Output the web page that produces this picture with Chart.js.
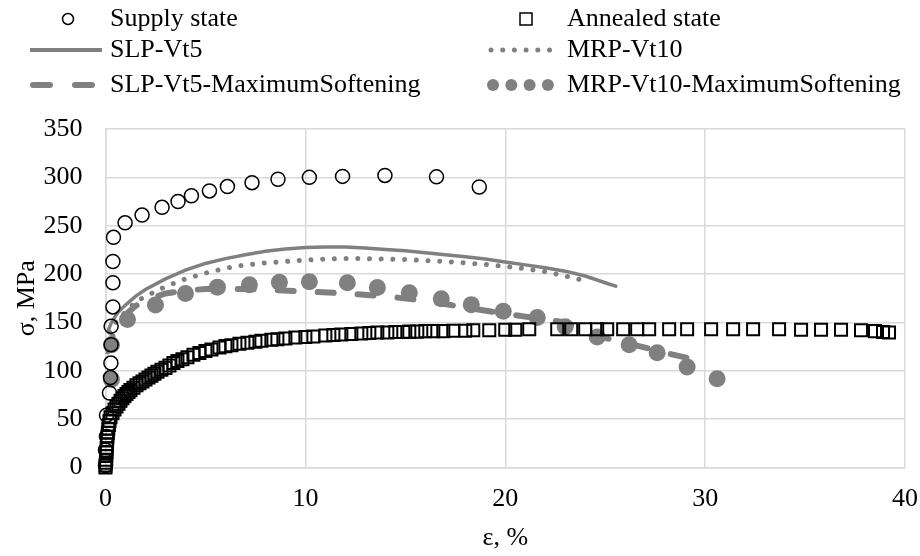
<!DOCTYPE html>
<html>
<head>
<meta charset="utf-8">
<script src="https://cdn.jsdelivr.net/npm/chart.js@4/dist/chart.umd.min.js"></script>
<style>
  html, body { margin: 0; padding: 0; background: #fff; }
  #wrap { width: 920px; height: 556px; position: relative; }
</style>
</head>
<body>
<div id="wrap"><canvas id="c" width="920" height="556"></canvas></div>
<script>
// ---- Data (strain %, stress MPa) ----
const seriesNames = ["Supply state", "Annealed state", "SLP-Vt5", "MRP-Vt10",
  "SLP-Vt5-MaximumSoftening", "MRP-Vt10-MaximumSoftening"];

const supplyState = [
  [0.0, 2], [0.0, 18], [0.05, 32], [0.05, 54], [0.2, 77], [0.25, 93], [0.27, 108],
  [0.28, 127], [0.28, 146], [0.37, 166], [0.37, 191], [0.37, 213], [0.4, 238],
  [0.98, 253], [1.83, 261], [2.83, 269], [3.63, 275], [4.3, 281], [5.2, 286],
  [6.1, 290.5], [7.33, 294.5], [8.63, 298], [10.2, 300], [11.86, 301],
  [13.98, 302], [16.56, 300.5], [18.7, 290]
];

const annealedState = [
  [0.0, 0], [0.0, 2], [0.02, 5], [0.03, 8], [0.04, 12], [0.05, 16], [0.06, 20],
  [0.07, 24], [0.08, 28], [0.1, 32], [0.12, 36], [0.14, 40], [0.17, 44], [0.2, 48],
  [0.25, 52], [0.35, 56], [0.45, 60], [0.55, 63], [0.65, 66], [0.75, 69],
  [0.85, 71.5], [0.95, 74], [1.05, 76], [1.15, 78], [1.25, 80], [1.4, 82.5],
  [1.55, 85], [1.7, 87], [1.85, 89], [2.0, 91], [2.15, 93], [2.3, 95], [2.45, 97],
  [2.6, 99], [2.8, 101], [3.0, 103], [3.2, 105.5], [3.4, 108], [3.6, 110],
  [3.85, 112], [4.1, 114], [4.4, 116.5], [4.7, 118.5], [5.0, 120.5], [5.3, 122],
  [5.7, 124], [6.0, 125.5], [6.3, 126.5], [6.7, 128], [7.1, 129], [7.5, 130],
  [7.8, 131], [8.3, 132], [8.6, 132.5], [9.0, 133.5], [9.5, 134.5], [10.0, 135],
  [10.4, 135.5], [11.0, 136.5], [11.4, 137], [11.8, 137.5], [12.3, 138],
  [12.8, 138.5], [13.2, 139], [13.6, 139.5], [14.1, 139.5], [14.5, 140],
  [14.9, 140], [15.2, 140.5], [15.6, 140.5], [16.0, 141], [16.4, 141], [16.9, 141],
  [17.4, 141.5], [18.0, 141.5], [18.4, 142], [19.2, 142], [20.0, 142.5],
  [20.5, 142.5], [21.2, 143], [22.6, 143], [23.3, 143], [24.0, 143], [24.6, 143],
  [25.1, 143], [25.9, 143], [26.6, 143], [27.2, 143], [28.2, 143], [29.1, 143],
  [30.3, 143], [31.4, 143], [32.4, 143], [33.7, 143], [34.8, 142.5], [35.8, 142.5],
  [36.8, 142.5], [37.8, 142], [38.5, 141], [38.9, 140], [39.2, 139.5]
];

const slpVt5 = [
  [0.1, 140], [0.3, 150], [0.6, 160], [1, 168], [1.5, 177], [2, 184], [3, 195],
  [4, 204], [5, 211], [6, 216], [7, 220], [8, 223.5], [9, 226], [10, 227.5],
  [11, 228], [12, 228], [13, 227], [14, 225.5], [15, 224], [16, 222], [17, 220],
  [18, 218], [19, 215.5], [20, 212.5], [21, 209.5], [22, 206.5], [23, 203],
  [24, 198], [25, 191], [25.6, 187]
];

const mrpVt10 = [
  [0.2, 140], [0.5, 150], [1, 161], [1.5, 171], [2, 177], [3, 187], [4, 195],
  [5, 201], [6, 206], [7, 209.5], [8, 211.5], [9, 213], [10, 214.5], [11, 215.5],
  [12, 216], [13, 216], [14, 215.5], [15, 215], [16, 214], [17, 213], [18, 211.5],
  [19, 210], [20, 208], [21, 205.5], [22, 202.5], [23, 198], [24, 193]
];

const slpVt5Max = [
  [0.1, 120], [0.5, 145], [1, 158], [1.5, 167], [2, 173], [3, 180], [4, 183],
  [5, 184.5], [6, 185], [8, 184], [10, 182], [12, 180], [14, 177], [16, 172.5],
  [18, 165.5], [20, 159], [22, 153], [23, 150], [24, 141], [25, 134], [26, 129],
  [27, 124], [28, 118.5], [29.2, 113]
];

const mrpVt10Max = [
  [0.3, 91], [0.3, 127], [1.1, 153], [2.5, 168], [4.0, 180], [5.6, 186.5],
  [7.2, 189], [8.7, 191.5], [10.2, 192], [12.1, 191], [13.6, 186], [15.2, 180.7],
  [16.8, 174.6], [18.3, 168.4], [19.9, 161.5], [21.6, 155], [23.0, 145.6],
  [24.6, 135], [26.2, 127], [27.6, 118.6], [29.1, 104], [30.6, 91.7]
];

const xTicks = [0, 10, 20, 30, 40];
const yTicks = [0, 50, 100, 150, 200, 250, 300, 350];

// ---- helpers ----
const pts = arr => arr.map(p => ({ x: p[0], y: p[1] }));
const GREY = '#808080';
const FONT = '"Liberation Serif", "Times New Roman", serif';

// legend plugin (two columns, three rows)
const legendPlugin = {
  id: 'customLegend',
  afterDraw(chart) {
    const ctx = chart.ctx;
    ctx.save();
    ctx.font = '26px ' + FONT;
    ctx.fillStyle = '#000';
    ctx.textBaseline = 'middle';
    ctx.textAlign = 'left';
    const rows = [19, 50, 85];
    const col1Text = 110, col2Text = 567;
    // Supply state
    ctx.beginPath();
    ctx.strokeStyle = '#000'; ctx.lineWidth = 1.5;
    ctx.arc(68, rows[0], 5.5, 0, Math.PI * 2); ctx.stroke();
    ctx.fillText(seriesNames[0], col1Text, rows[0]);
    // Annealed state
    ctx.strokeRect(520, rows[0] - 6, 12, 12);
    ctx.fillText(seriesNames[1], col2Text, rows[0]);
    // SLP-Vt5
    ctx.beginPath(); ctx.strokeStyle = GREY; ctx.lineWidth = 4; ctx.lineCap = 'butt';
    ctx.moveTo(30, rows[1]); ctx.lineTo(102, rows[1]); ctx.stroke();
    ctx.fillText(seriesNames[2], col1Text, rows[1]);
    // MRP-Vt10 dotted
    ctx.fillStyle = GREY;
    for (let i = 0; i < 6; i++) {
      ctx.beginPath(); ctx.arc(491 + i * 11.7, rows[1], 2.5, 0, Math.PI * 2); ctx.fill();
    }
    ctx.fillStyle = '#000';
    ctx.fillText(seriesNames[3], col2Text, rows[1]);
    // SLP max dashed
    ctx.beginPath(); ctx.lineWidth = 6; ctx.lineCap = 'round'; ctx.strokeStyle = GREY;
    ctx.moveTo(33, rows[2]); ctx.lineTo(50, rows[2]);
    ctx.moveTo(75, rows[2]); ctx.lineTo(92, rows[2]); ctx.stroke();
    ctx.fillText(seriesNames[4], col1Text, rows[2]);
    // MRP max big dots
    ctx.fillStyle = GREY;
    for (let i = 0; i < 4; i++) {
      ctx.beginPath(); ctx.arc(493 + i * 18.3, rows[2], 6, 0, Math.PI * 2); ctx.fill();
    }
    ctx.fillStyle = '#000';
    ctx.fillText(seriesNames[5], col2Text, rows[2]);
    ctx.restore();
  }
};

new Chart(document.getElementById('c'), {
  type: 'scatter',
  data: {
    datasets: [
      { label: seriesNames[0], data: pts(supplyState), showLine: false,
        pointStyle: 'circle', pointRadius: 7, pointBorderColor: '#000',
        pointBackgroundColor: 'rgba(0,0,0,0)', pointBorderWidth: 1.5, order: 1, clip: false },
      { label: seriesNames[1], data: pts(annealedState), showLine: false,
        pointStyle: 'rect', pointRadius: 8.5, pointBorderColor: '#000',
        pointBackgroundColor: 'rgba(0,0,0,0)', pointBorderWidth: 2, order: 0, clip: false },
      { label: seriesNames[2], data: pts(slpVt5), showLine: true, pointRadius: 0,
        borderColor: GREY, borderWidth: 3.5, order: 5 },
      { label: seriesNames[3], data: pts(mrpVt10), showLine: true, pointRadius: 0,
        borderColor: GREY, borderWidth: 5, borderDash: [0.01, 11.7],
        borderCapStyle: 'round', order: 4 },
      { label: seriesNames[4], data: pts(slpVt5Max), showLine: true, pointRadius: 0,
        borderColor: GREY, borderWidth: 6, borderDash: [16, 24],
        borderCapStyle: 'round', order: 3 },
      { label: seriesNames[5], data: pts(mrpVt10Max), showLine: false,
        pointStyle: 'circle', pointRadius: 8.5, pointBorderWidth: 0,
        pointBackgroundColor: GREY, pointBorderColor: GREY, order: 2, clip: false }
    ]
  },
  options: {
    responsive: false,
    animation: false,
    events: [],
    layout: { padding: { top: 129, right: 15, left: 0, bottom: 0 } },
    plugins: { legend: { display: false }, tooltip: { enabled: false } },
    scales: {
      x: {
        type: 'linear', min: 0, max: 40,
        afterBuildTicks: s => { s.ticks = xTicks.map(v => ({ value: v })); },
        grid: { color: '#d9d9d9', lineWidth: 1.5, drawTicks: false },
        border: { display: true, color: '#d9d9d9', width: 1.5 },
        ticks: { color: '#000', font: { family: FONT, size: 26 }, padding: 16, maxRotation: 0 },
        title: { display: true, text: 'ε, %', color: '#000',
                 font: { family: FONT, size: 26 }, padding: { top: 0, bottom: 2 } },
        afterFit: s => { s.height = 88.5; s.paddingLeft = 0; s.paddingRight = 0; }
      },
      y: {
        type: 'linear', min: 0, max: 350,
        afterBuildTicks: s => { s.ticks = yTicks.map(v => ({ value: v })); },
        grid: { color: '#d9d9d9', lineWidth: 1.5, drawTicks: false },
        border: { display: true, color: '#d9d9d9', width: 1.5 },
        ticks: { color: '#000', font: { family: FONT, size: 26 }, padding: 23 },
        title: { display: true, text: 'σ, MPa', color: '#000',
                 font: { family: FONT, size: 26 }, padding: { top: 12, bottom: 0 } },
        afterFit: s => { s.width = 105.5; s.paddingTop = 0; s.paddingBottom = 0; }
      }
    }
  },
  plugins: [legendPlugin]
});
</script>
</body>
</html>
